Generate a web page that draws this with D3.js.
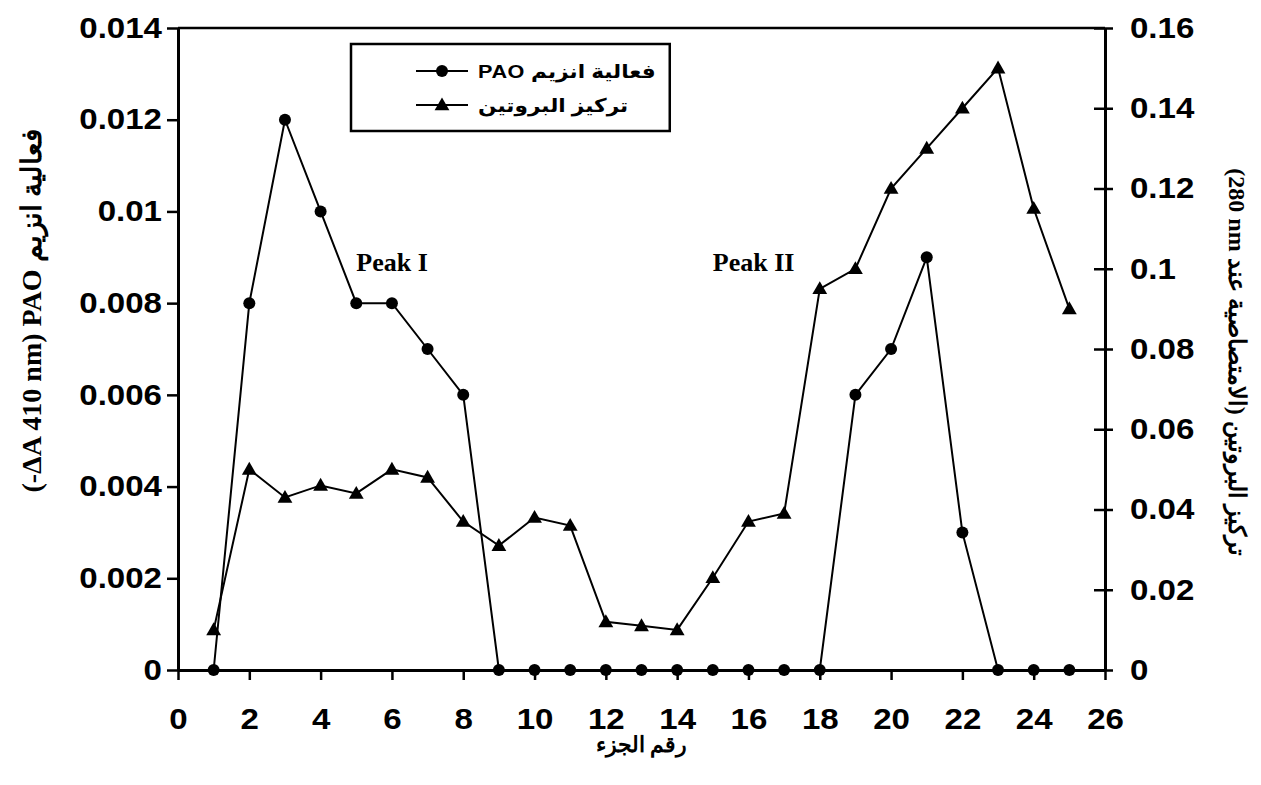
<!DOCTYPE html>
<html>
<head>
<meta charset="utf-8">
<script src="https://cdn.jsdelivr.net/npm/d3@7"></script>
<style>
  body { margin: 0; background: #fff; }
  svg { display: block; }
</style>
</head>
<body>
<div id="chart"></div>
<script>
// fraction numbers along the x axis
const fractions = [1, 2, 3, 4, 5, 6, 7, 8, 9, 10, 11, 12, 13, 14, 15, 16, 17, 18, 19, 20, 21, 22, 23, 24, 25];

// PAO activity (-dA 410 nm), left axis
const paoActivity = [0, 0.008, 0.012, 0.010, 0.008, 0.008, 0.007, 0.006, 0, 0, 0, 0, 0, 0, 0, 0, 0, 0,
                     0.006, 0.007, 0.009, 0.003, 0, 0, 0];

// protein concentration (absorbance at 280 nm), right axis
const proteinConc = [0.010, 0.050, 0.043, 0.046, 0.044, 0.050, 0.048, 0.037, 0.031, 0.038, 0.036, 0.012,
                     0.011, 0.010, 0.023, 0.037, 0.039, 0.095, 0.100, 0.120, 0.130, 0.140, 0.150, 0.115, 0.090];

const xTicks      = [0, 2, 4, 6, 8, 10, 12, 14, 16, 18, 20, 22, 24, 26];
const leftTicks   = [0, 0.002, 0.004, 0.006, 0.008, 0.010, 0.012, 0.014];
const leftLabels  = ["0", "0.002", "0.004", "0.006", "0.008", "0.01", "0.012", "0.014"];
const rightTicks  = [0, 0.02, 0.04, 0.06, 0.08, 0.10, 0.12, 0.14, 0.16];
const rightLabels = ["0", "0.02", "0.04", "0.06", "0.08", "0.1", "0.12", "0.14", "0.16"];

const seriesNames = ["فعالية انزيم PAO", "تركيز البروتين"];
const peakLabels  = [{text: "Peak I", x: 5.0, y: 0.0087}, {text: "Peak II", x: 15.0, y: 0.0087}];

const width  = 1261;
const height = 785;
const box = {left: 178, right: 1105, top: 28, bottom: 670};

// the original picture is stretched a little sideways
const stretch = 1.14;

const tickFont  = "bold 29px Arial, 'Liberation Sans', sans-serif";
const serifBold = "'Times New Roman', 'Liberation Serif', serif";

const svg = d3.select("#chart")
    .append("svg")
    .attr("width", width)
    .attr("height", height);

const x = d3.scaleLinear().domain([0, 26]).range([box.left, box.right]);
const yLeft = d3.scaleLinear().domain([0, 0.014]).range([box.bottom, box.top]);
const yRight = d3.scaleLinear().domain([0, 0.16]).range([box.bottom, box.top]);

function stretchText(sel) {
    sel.each(function () {
        let tx = +(this.getAttribute("x") || 0);
        this.setAttribute("transform",
            "translate(" + tx + ",0) scale(" + stretch + ",1) translate(" + (-tx) + ",0)");
    });
}

// top border of the plot area
svg.append("line")
    .attr("x1", box.left).attr("x2", box.right)
    .attr("y1", box.top).attr("y2", box.top)
    .attr("stroke", "#000").attr("stroke-width", 2.5);

function styleAxis(g) {
    g.select(".domain").attr("stroke-width", 3);
    g.selectAll(".tick line").attr("stroke-width", 2.5);
    g.selectAll(".tick text").style("font", tickFont).attr("fill", "#000").call(stretchText);
}

svg.append("g")
    .attr("transform", "translate(0," + box.bottom + ")")
    .call(d3.axisBottom(x).tickValues(xTicks).tickFormat(d3.format("d"))
        .tickSize(10).tickSizeOuter(0).tickPadding(28))
    .call(styleAxis);

svg.append("g")
    .attr("transform", "translate(" + box.left + ",0)")
    .call(d3.axisLeft(yLeft).tickValues(leftTicks).tickFormat((d, i) => leftLabels[i])
        .tickSize(11).tickSizeOuter(0).tickPadding(5))
    .call(styleAxis);

svg.append("g")
    .attr("transform", "translate(" + box.right + ",0)")
    .call(d3.axisRight(yRight).tickValues(rightTicks).tickFormat((d, i) => rightLabels[i])
        .tickSize(8).tickSizeOuter(0).tickPadding(17))
    .call(styleAxis)
    .call(g => g.selectAll(".tick line").attr("x1", -11));

// series
const line = (yScale, values) => d3.line()
    .x((d, i) => x(fractions[i]))
    .y(d => yScale(d))(values);

svg.append("path")
    .attr("d", line(yRight, proteinConc))
    .attr("fill", "none").attr("stroke", "#000").attr("stroke-width", 2);

svg.append("path")
    .attr("d", line(yLeft, paoActivity))
    .attr("fill", "none").attr("stroke", "#000").attr("stroke-width", 2);

const triangle = d3.symbol().type(d3.symbolTriangle).size(95);

svg.append("g").selectAll("path")
    .data(proteinConc)
    .join("path")
    .attr("d", triangle)
    .attr("transform", (d, i) => "translate(" + x(fractions[i]) + "," + (yRight(d) + 1) + ")")
    .attr("fill", "#000");

svg.append("g").selectAll("circle")
    .data(paoActivity)
    .join("circle")
    .attr("cx", (d, i) => x(fractions[i]))
    .attr("cy", d => yLeft(d))
    .attr("r", 6)
    .attr("fill", "#000");

// peak annotations
svg.append("g").selectAll("text")
    .data(peakLabels)
    .join("text")
    .attr("x", d => x(d.x))
    .attr("y", d => yLeft(d.y))
    .style("font-family", serifBold)
    .style("font-weight", "bold")
    .style("font-size", "26px")
    .text(d => d.text);

// legend
const legend = svg.append("g");
const legendBox = legend.append("rect")
    .attr("x", 351).attr("y", 44)
    .attr("height", 87)
    .attr("fill", "#fff").attr("stroke", "#000").attr("stroke-width", 2.5);

const rowsY = [71, 105];
let textEnd = 0;
seriesNames.forEach((name, i) => {
    legend.append("line")
        .attr("x1", 416).attr("x2", 468)
        .attr("y1", rowsY[i]).attr("y2", rowsY[i])
        .attr("stroke", "#000").attr("stroke-width", 2);
    if (i === 0) {
        legend.append("circle").attr("cx", 442).attr("cy", rowsY[i]).attr("r", 6).attr("fill", "#000");
    } else {
        legend.append("path").attr("d", triangle)
            .attr("transform", "translate(442," + (rowsY[i] + 1) + ")").attr("fill", "#000");
    }
    const t = legend.append("text")
        .attr("x", 478).attr("y", rowsY[i] + 7)
        .attr("direction", "rtl")
        .attr("text-anchor", "end")
        .style("font", "bold 19px Arial, 'Liberation Sans', 'DejaVu Sans', sans-serif")
        .style("letter-spacing", "0.5px")
        .text(name)
        .call(stretchText);
    const bb = t.node().getBBox();
    textEnd = Math.max(textEnd, 478 + (bb.x + bb.width - 478) * stretch);
});
legendBox.attr("width", textEnd + 14 - 351);

// axis titles
svg.append("text")
    .attr("transform", "translate(41,311) rotate(-90)")
    .attr("text-anchor", "middle")
    .style("font-family", serifBold)
    .style("font-weight", "bold")
    .style("font-size", "28px")
    .text("(-ΔA 410 nm) PAO فعالية انزيم");

svg.append("text")
    .attr("transform", "translate(1229,362) rotate(90)")
    .attr("text-anchor", "middle")
    .attr("direction", "rtl")
    .style("font-family", serifBold)
    .style("font-weight", "bold")
    .style("font-size", "24px")
    .text("تركيز البروتين (الامتصاصية عند 280\u200E nm)");

svg.append("text")
    .attr("x", (box.left + box.right) / 2)
    .attr("y", 752)
    .attr("text-anchor", "middle")
    .attr("direction", "rtl")
    .style("font-family", serifBold)
    .style("font-weight", "bold")
    .style("font-size", "22px")
    .text("رقم الجزء");
</script>
</body>
</html>
